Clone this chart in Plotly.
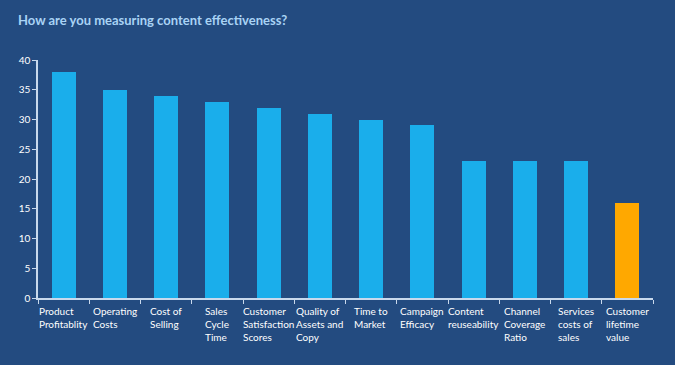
import plotly.graph_objects as go

categories = ["Product<br>Profitablity", "Operating<br>Costs", "Cost of<br>Selling",
              "Sales<br>Cycle<br>Time", "Customer<br>Satisfaction<br>Scores",
              "Quality of<br>Assets and<br>Copy", "Time to<br>Market", "Campaign<br>Efficacy",
              "Content<br>reuseability", "Channel<br>Coverage<br>Ratio",
              "Services<br>costs of<br>sales", "Customer<br>lifetime<br>value"]
values = [38, 35, 34, 33, 32, 31, 30, 29, 23, 23, 23, 16]
y_ticks = [0, 5, 10, 15, 20, 25, 30, 35, 40]
highlight_index = 11

idx = list(range(len(categories)))
colors = ["#ffa800" if i == highlight_index else "#1aaeeb" for i in idx]

fig = go.Figure()
fig.add_trace(go.Bar(x=idx, y=values, marker=dict(color=colors, line=dict(width=0)),
                     width=0.47, hoverinfo="skip"))

font_family = "Lato, Open Sans, DejaVu Sans, sans-serif"
axis_col = "#c9d9ec"

annotations = [dict(x=i, y=0, xref="x", yref="y", text=c, showarrow=False,
                    xanchor="center", yanchor="top", align="left", yshift=-5,
                    font=dict(family=font_family, size=10, color="#ffffff"))
               for i, c in zip(idx, categories)]

fig.update_layout(
    width=675, height=365,
    margin=dict(l=38, r=22, t=60, b=67),
    paper_bgcolor="#234b80", plot_bgcolor="#234b80",
    showlegend=False,
    bargap=0,
    title=dict(text="<b>How are you measuring content effectiveness?</b>",
               x=18 / 675, xref="container", xanchor="left",
               y=1 - 20 / 365, yref="container", yanchor="middle",
               font=dict(family=font_family, size=13, color="#a9d3f5")),
    xaxis=dict(range=[-0.5, 11.5], tickvals=[i - 0.5 for i in idx] + [11.5],
               ticktext=[""] * 13, ticks="outside", ticklen=4, tickcolor=axis_col,
               showline=True, linecolor=axis_col, linewidth=1.5, showgrid=False,
               zeroline=False, fixedrange=True),
    yaxis=dict(range=[0, 40], tickvals=y_ticks, ticks="outside", ticklen=4,
               tickcolor=axis_col, showline=True, linecolor=axis_col, linewidth=1.5,
               showgrid=False, zeroline=False, fixedrange=True,
               tickfont=dict(family=font_family, size=10, color="#ffffff")),
    annotations=annotations,
    font=dict(family=font_family),
)

fig.write_html("out.html", config={"displayModeBar": False},
               post_script="document.body.style.margin='0';document.body.style.background='#234b80';")
